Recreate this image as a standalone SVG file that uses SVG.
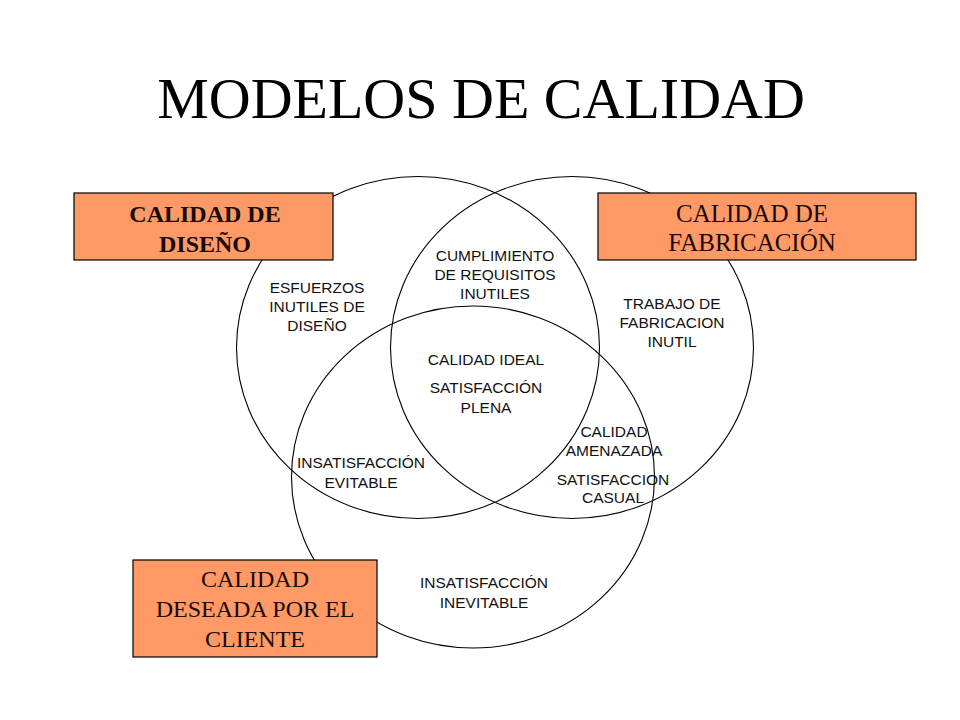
<svg xmlns="http://www.w3.org/2000/svg" width="960" height="720" viewBox="0 0 960 720">
  <style>
    .ring { fill: none; stroke: #000; stroke-width: 1.1; }
    .box { fill: #FF9966; stroke: #000; stroke-width: 1.2; }
    .boxtxt { font-family: "Liberation Serif", "Times New Roman", serif; font-size: 24px; fill: #1a0a00; text-anchor: middle; }
    .big { font-size: 25px; }
    .bold { font-weight: bold; }
    .lbl { font-family: "Liberation Sans", Arial, sans-serif; font-size: 15.5px; fill: #111; text-anchor: middle; }
    .title { font-family: "Liberation Serif", "Times New Roman", serif; font-size: 58px; fill: #000; text-anchor: middle; }
  </style>
  <rect x="0" y="0" width="960" height="720" fill="#fff"/>
  <text class="title" x="481" y="118">MODELOS DE CALIDAD</text>

  <g id="circles">
    <g id="circle-diseno"><ellipse class="ring" cx="418" cy="347.5" rx="181.5" ry="171"/></g>
    <g id="circle-fabricacion"><ellipse class="ring" cx="572" cy="347.5" rx="181.5" ry="171"/></g>
    <g id="circle-cliente"><ellipse class="ring" cx="473" cy="477" rx="181.5" ry="171"/></g>
  </g>

  <g id="region-labels">
    <g id="lbl-esfuerzos">
      <text class="lbl" x="317" y="293">ESFUERZOS</text>
      <text class="lbl" x="317" y="312">INUTILES DE</text>
      <text class="lbl" x="317" y="331">DISEÑO</text>
    </g>
    <g id="lbl-cumplimiento">
      <text class="lbl" x="495" y="261">CUMPLIMIENTO</text>
      <text class="lbl" x="495" y="280">DE REQUISITOS</text>
      <text class="lbl" x="495" y="299">INUTILES</text>
    </g>
    <g id="lbl-trabajo">
      <text class="lbl" x="672" y="309">TRABAJO DE</text>
      <text class="lbl" x="672" y="328">FABRICACION</text>
      <text class="lbl" x="672" y="347">INUTIL</text>
    </g>
    <g id="lbl-ideal">
      <text class="lbl" x="486" y="365">CALIDAD IDEAL</text>
      <text class="lbl" x="486" y="393">SATISFACCIÓN</text>
      <text class="lbl" x="486" y="413">PLENA</text>
    </g>
    <g id="lbl-amenazada">
      <text class="lbl" x="614" y="437">CALIDAD</text>
      <text class="lbl" x="614" y="456">AMENAZADA</text>
      <text class="lbl" x="613" y="485">SATISFACCION</text>
      <text class="lbl" x="613" y="503">CASUAL</text>
    </g>
    <g id="lbl-evitable">
      <text class="lbl" x="361" y="468">INSATISFACCIÓN</text>
      <text class="lbl" x="361" y="488">EVITABLE</text>
    </g>
    <g id="lbl-inevitable">
      <text class="lbl" x="484" y="588">INSATISFACCIÓN</text>
      <text class="lbl" x="484" y="608">INEVITABLE</text>
    </g>
  </g>

  <g id="node-diseno">
    <rect class="box" x="74" y="193" width="259" height="67"/>
    <text class="boxtxt bold" x="205" y="222">CALIDAD DE</text>
    <text class="boxtxt bold" x="205" y="252">DISEÑO</text>
  </g>
  <g id="node-fabricacion">
    <rect class="box" x="598" y="193" width="318" height="67"/>
    <text class="boxtxt big" x="752" y="222">CALIDAD DE</text>
    <text class="boxtxt big" x="752" y="251">FABRICACIÓN</text>
  </g>
  <g id="node-cliente">
    <rect class="box" x="133" y="560" width="244" height="97"/>
    <text class="boxtxt" x="255" y="587">CALIDAD</text>
    <text class="boxtxt" x="255" y="617">DESEADA POR EL</text>
    <text class="boxtxt" x="255" y="647">CLIENTE</text>
  </g>
</svg>
